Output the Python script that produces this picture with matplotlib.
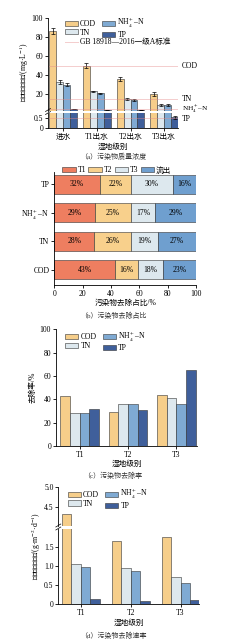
#!/usr/bin/env python3
"""Wetland pollutant removal: four-panel figure"""
# -*- coding: utf-8 -*-

import numpy as np
import matplotlib
matplotlib.use('Agg')
import matplotlib.pyplot as plt
from matplotlib.lines import Line2D
from matplotlib.patches import Patch

plt.rcParams['font.family'] = ['Liberation Serif', 'Noto Sans CJK SC']
plt.rcParams['mathtext.fontset'] = 'stix'
plt.rcParams['font.size'] = 5.5
plt.rcParams['axes.linewidth'] = 0.6
plt.rcParams['xtick.major.width'] = 0.6
plt.rcParams['ytick.major.width'] = 0.6
plt.rcParams['xtick.major.size'] = 2
plt.rcParams['ytick.major.size'] = 2
plt.rcParams['xtick.major.pad'] = 1.5
plt.rcParams['ytick.major.pad'] = 1.5

# ---- data ----
series = ['COD', 'TN', 'NH$_4^+$–N', 'TP']
stages_a = ['进水', 'T1出水', 'T2出水', 'T3出水']
conc_cod = [87, 50, 36, 20]
conc_tn = [33, 23, 15, 9]
conc_nh4 = [30, 21, 14, 9]
conc_tp = [4.4, 3.7, 3.5, 0.55]
err_cod = [3, 2.5, 2, 2]
err_tn = [2, 0.4, 0.8, 1.2]
err_nh4 = [1.5, 0.6, 1.0, 0.8]
err_tp = [0.2, 0.1, 0.1, 0.07]
std_names = ['COD', 'TN', 'NH$_4^+$–N']
std_values = [50, 15, 5]
std_tp = 0.5

share_rows = ['COD', 'TN', 'NH$_4^+$–N', 'TP']
share_parts = ['T1', 'T2', 'T3', '流出']
share_t1 = [43, 28, 29, 32]
share_t2 = [16, 26, 25, 22]
share_t3 = [18, 19, 17, 30]
share_out = [23, 27, 29, 16]

wetlands = ['T1', 'T2', 'T3']
rate_cod = [43, 29, 44]
rate_tn = [28, 36, 41.5]
rate_nh4 = [28.5, 36, 36]
rate_tp = [32, 31, 65]

speed_cod = [4.33, 1.65, 1.76]
speed_tn = [1.05, 0.95, 0.70]
speed_nh4 = [0.97, 0.87, 0.55]
speed_tp = [0.13, 0.08, 0.12]

colors = ['#F6CE8A', '#DDE8EE', '#7FAAD3', '#3F5F9B']
share_colors = ['#EE7E60', '#F8D08C', '#DDE8EE', '#6F9FCF']
edge = '#333333'

W, H = 247, 642
fig = plt.figure(figsize=(W / 100, H / 100), dpi=100)


def box(l, t, r, b):
    " pixel box -> figure rect "
    return [l / W, 1 - b / H, (r - l) / W, (b - t) / H]


def fy(y):
    return 1 - y / H


def fx(x):
    return x / W


def clean(ax):
    ax.spines['top'].set_visible(False)
    ax.spines['right'].set_visible(False)


def brk(x, y):
    " small // mark on a broken axis "
    for dy in (-1.5, 1.5):
        fig.add_artist(Line2D([fx(x - 2.5), fx(x + 2.5)],
                              [fy(y + dy + 1.5), fy(y + dy - 1.5)],
                              color='k', lw=0.5))


def grouped(axs, x, vals, errs, width):
    offs = (np.arange(4) - 1.5) * width
    for ax in axs:
        for k in range(4):
            ax.bar(x + offs[k], vals[k], width, color=colors[k],
                   edgecolor=edge, linewidth=0.4,
                   yerr=None if errs is None else errs[k],
                   error_kw=dict(elinewidth=0.5, capsize=1.5, capthick=0.5),
                   label=series[k])


def bar_legend(ax, x0, y0):
    handles = [Patch(facecolor=colors[k], edgecolor=edge, linewidth=0.4)
               for k in range(4)]
    leg = ax.legend(handles, series, ncol=2, loc='upper left',
                    bbox_to_anchor=(x0, y0), frameon=False,
                    handlelength=1.7, handleheight=0.65, handletextpad=0.3,
                    columnspacing=0.8, labelspacing=0.1, borderpad=0,
                    fontsize=5.5)
    return leg


# ---------------- (a) ----------------
xa = np.arange(len(stages_a))
ax_a1 = fig.add_axes(box(48, 18.3, 178, 110.5))
ax_a2 = fig.add_axes(box(48, 112.5, 178, 128.3))
vals_a = [conc_cod, conc_tn, conc_nh4, conc_tp]
errs_a = [err_cod, err_tn, err_nh4, err_tp]
grouped([ax_a1, ax_a2], xa, vals_a, errs_a, 0.205)
for ax in (ax_a1, ax_a2):
    clean(ax)
    ax.set_xlim(-0.45, 3.41)
ax_a1.set_ylim(2.95, 100)
ax_a1.set_yticks([20, 40, 60, 80, 100])
ax_a1.spines['bottom'].set_visible(False)
ax_a1.set_xticks([])
ax_a2.set_ylim(0, 0.79)
ax_a2.set_yticks([0, 0.5])
ax_a2.set_yticklabels(['0', '0.5'])
ax_a2.set_xticks(xa)
ax_a2.set_xticklabels(stages_a, fontsize=5.5)
ax_a2.set_xlabel('湿地级别', fontsize=5.5, labelpad=1)

ref = dict(color='#E58C8C', lw=0.6, ls=(0, (1.2, 1.2)))
label_dy = [0, 0.3, -0.6]
label_fs = [5.5, 5.5, 5.2]
for name, v, dy, fs in zip(std_names, std_values, label_dy, label_fs):
    ax_a1.axhline(v, **ref)
    ax_a1.annotate(name, xy=(1.0, v), xycoords=('axes fraction', 'data'),
                   xytext=(3, dy), textcoords='offset points',
                   va='center', ha='left', fontsize=fs,
                   annotation_clip=False)
ax_a2.axhline(std_tp, **ref)
ax_a2.annotate('TP', xy=(1.0, std_tp), xycoords=('axes fraction', 'data'),
               xytext=(3, -0.8), textcoords='offset points',
               va='center', ha='left', fontsize=5.5)

leg = bar_legend(ax_a1, 0.1, 1.065)
ax_a1.add_artist(leg)
ax_a1.legend([Line2D([], [], **ref)], ['GB 18918—2016一级A标准'],
             loc='center left', bbox_to_anchor=(0.1, 0.74), frameon=False,
             handlelength=1.7, handletextpad=0.3, borderpad=0, fontsize=5.5)
brk(48, 111.5)
fig.text(fx(24), fy(72), '污染物质量浓度/(mg·L$^{-1}$)', rotation=90,
         ha='center', va='center', fontsize=5.5)
fig.text(fx(113), fy(156), '（a）污染物质量浓度', ha='center', va='center',
         fontsize=5, color='#333333')

# ---------------- (b) ----------------
ax_b = fig.add_axes(box(54.3, 172, 196, 285))
clean(ax_b)
yb = np.arange(len(share_rows))
left = np.zeros(len(share_rows))
parts = [share_t1, share_t2, share_t3, share_out]
for k, part in enumerate(parts):
    part = np.array(part, dtype=float)
    ax_b.barh(yb, part, 0.67, left=left, color=share_colors[k],
              edgecolor=edge, linewidth=0.4, label=share_parts[k])
    for j in range(len(share_rows)):
        ax_b.text(left[j] + part[j] / 2, yb[j], '%d%%' % part[j],
                  ha='center', va='center', fontsize=5.5)
    left += part
ax_b.set_xlim(0, 100)
ax_b.set_ylim(-0.54, 3.44)
ax_b.set_yticks(yb)
ax_b.set_yticklabels(share_rows)
ax_b.set_xticks([0, 20, 40, 60, 80, 100])
ax_b.set_xlabel('污染物去除占比/%', fontsize=5.5, labelpad=1)
ax_b.legend(ncol=4, loc='lower left', bbox_to_anchor=(0.03, 0.945),
            frameon=False, handlelength=1.8, handleheight=0.7,
            handletextpad=0.2, columnspacing=0.3, borderpad=0, fontsize=5.5)
fig.text(fx(113), fy(315), '（b）污染物去除占比', ha='center', va='center',
         fontsize=5, color='#333333')

# ---------------- (c) ----------------
xc = np.arange(len(wetlands))
ax_c = fig.add_axes(box(56, 329.3, 197, 446))
clean(ax_c)
grouped([ax_c], xc, [rate_cod, rate_tn, rate_nh4, rate_tp], None, 0.2)
ax_c.set_xlim(-0.49, 2.43)
ax_c.set_ylim(0, 100)
ax_c.set_yticks([0, 20, 40, 60, 80, 100])
ax_c.set_xticks(xc)
ax_c.set_xticklabels(wetlands)
ax_c.set_xlabel('湿地级别', fontsize=5.5, labelpad=1)
ax_c.set_ylabel('去除率/%', fontsize=5.5, labelpad=2)
bar_legend(ax_c, 0.04, 1.03)
fig.text(fx(113), fy(475), '（c）污染物去除率', ha='center', va='center',
         fontsize=5, color='#333333')

# ---------------- (d) ----------------
ax_d1 = fig.add_axes(box(58.3, 487.3, 199, 525.5))
ax_d2 = fig.add_axes(box(58.3, 528.5, 199, 604.3))
grouped([ax_d1, ax_d2], xc, [speed_cod, speed_tn, speed_nh4, speed_tp],
        None, 0.19)
for ax in (ax_d1, ax_d2):
    clean(ax)
    ax.set_xlim(-0.45, 2.37)
ax_d1.set_ylim(4.045, 5.0)
ax_d1.set_yticks([4.5, 5.0])
ax_d1.set_yticklabels(['4.5', '5.0'])
ax_d1.spines['bottom'].set_visible(False)
ax_d1.set_xticks([])
ax_d2.set_ylim(0, 1.97)
ax_d2.set_yticks([0, 0.5, 1.0, 1.5])
ax_d2.set_yticklabels(['0', '0.5', '1.0', '1.5'])
ax_d2.set_xticks(xc)
ax_d2.set_xticklabels(wetlands)
ax_d2.set_xlabel('湿地级别', fontsize=5.5, labelpad=1)
bar_legend(ax_d1, 0.04, 1.1)
brk(58.3, 527)
fig.text(fx(36), fy(546), '污染物去除速率/(g·m$^{-2}$·d$^{-1}$)', rotation=90,
         ha='center', va='center', fontsize=5.5)
fig.text(fx(113), fy(635), '（d）污染物去除速率', ha='center', va='center',
         fontsize=5, color='#333333')

fig.savefig('out.png', dpi=100)
